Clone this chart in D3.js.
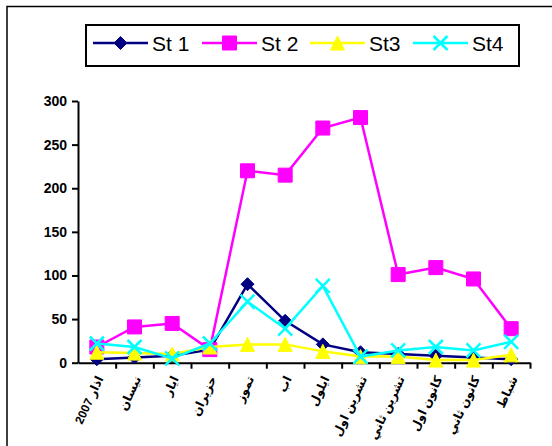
<!DOCTYPE html>
<html><head><meta charset="utf-8">
<script src="https://cdn.jsdelivr.net/npm/d3@7"></script>
<style>body{margin:0;background:#fff}svg{display:block}</style>
</head><body>
<svg id="c" width="552" height="446"></svg>
<script>
const months = ["اذار 2007","نيسان","ايار","حزيران","تموز","اب","ايلول","تشرين اول","تشرين ثاني","كانون اول","كانون ثاني","شباط"];
const st1 = [4, 6, 8, 15, 90, 48, 21, 12, 10, 8, 6, 4];
const st2 = [18, 41, 45, 15, 220, 215, 269, 281, 101, 109, 96, 39];
const st3 = [12, 11, 10, 18, 21, 21, 13, 7, 7, 3, 3, 9];
const st4 = [22, 18, 5, 22, 70, 39, 88, 7, 14, 18, 14, 24];
const seriesNames = ["St 1","St 2","St3","St4"];
const yTicks = [0,50,100,150,200,250,300];

const series = [
  {name: seriesNames[0], values: st1, color: "#000080", marker: "diamond"},
  {name: seriesNames[1], values: st2, color: "#FF00FF", marker: "square"},
  {name: seriesNames[2], values: st3, color: "#FFFF00", marker: "triangle"},
  {name: seriesNames[3], values: st4, color: "#00FFFF", marker: "cross"}
];

const svg = d3.select("#c");
const font = "Arial, 'Liberation Sans', 'DejaVu Sans', sans-serif";

svg.append("path").attr("d","M7,446V6.5H552").attr("fill","none").attr("stroke","#000").attr("stroke-width",1.5);

const x = d3.scaleBand().domain(months).range([78, 530]);
const y = d3.scaleLinear().domain([0, 300]).range([362.7, 101]);

function markerPath(type, size) {
  const s = size;
  if (type === "diamond") return `M0,${-s/2}L${s/2},0L0,${s/2}L${-s/2},0Z`;
  if (type === "square") return `M${-s/2},${-s/2}h${s}v${s}h${-s}Z`;
  if (type === "triangle") return `M0,${-s/2}L${s/2},${s/2}L${-s/2},${s/2}Z`;
  return `M${-s/2},${-s/2}L${s/2},${s/2}M${s/2},${-s/2}L${-s/2},${s/2}`;
}
function drawMarker(g, type, color, cx, cy) {
  const sizes = {diamond: 13, square: 14, triangle: 14, cross: 14};
  const p = g.append("path").attr("transform", `translate(${cx},${cy})`).attr("d", markerPath(type, sizes[type]));
  if (type === "cross") p.attr("fill","none").attr("stroke", color).attr("stroke-width", 2.5);
  else p.attr("fill", color).attr("stroke", color).attr("stroke-width", 1);
}

const yAxis = d3.axisLeft(y).tickValues(yTicks).tickSize(6).tickPadding(5).tickSizeOuter(0);
const gy = svg.append("g").attr("transform","translate(78,0)").call(yAxis);
gy.select(".domain").attr("stroke","#000").attr("stroke-width",2);
gy.selectAll(".tick line").attr("stroke","#000").attr("stroke-width",2);
gy.selectAll(".tick text").attr("font-family", font).attr("font-size", 14).attr("font-weight","bold").attr("fill","#000");

const xTickScale = d3.scaleLinear().domain([0, 12]).range([78, 530]);
const xAxis = d3.axisBottom(xTickScale).tickValues(d3.range(1, 13)).tickSize(6).tickSizeOuter(0).tickFormat("");
const gx = svg.append("g").attr("transform",`translate(0,${y(0)})`).call(xAxis);
gx.select(".domain").attr("stroke","#000").attr("stroke-width",2);
gx.selectAll(".tick line").attr("stroke","#000").attr("stroke-width",2);

const xc = d => x(d) + x.bandwidth()/2;
svg.append("g").selectAll("text").data(months).join("text")
  .attr("transform", d => `translate(${xc(d)+3},${y(0)+14}) rotate(-65)`)
  .attr("text-anchor","start")
  .attr("direction","rtl")
  .attr("dy","0.35em")
  .attr("font-family", font).attr("font-size", 12).attr("font-weight","bold")
  .text(d => d);

const line = d3.line().x((d,i) => xc(months[i])).y(d => y(d));
series.forEach(s => {
  const g = svg.append("g");
  g.append("path").attr("d", line(s.values)).attr("fill","none").attr("stroke", s.color).attr("stroke-width", 2.5);
  s.values.forEach((v,i) => drawMarker(g, s.marker, s.color, xc(months[i]), y(v)));
});

const lg = svg.append("g");
lg.append("rect").attr("x",86).attr("y",25).attr("width",433).attr("height",41).attr("fill","#fff").attr("stroke","#000").attr("stroke-width",2);
const legX = [93, 202, 310, 413];
series.forEach((s,i) => {
  const lx = legX[i];
  lg.append("line").attr("x1",lx).attr("x2",lx+55).attr("y1",43).attr("y2",43).attr("stroke",s.color).attr("stroke-width",2.5);
  drawMarker(lg, s.marker, s.color, lx+27.5, 43);
  lg.append("text").attr("x", lx+59).attr("y", 43).attr("dy","0.36em")
    .attr("font-family", font).attr("font-size", 21).text(s.name);
});
</script>
</body></html>
